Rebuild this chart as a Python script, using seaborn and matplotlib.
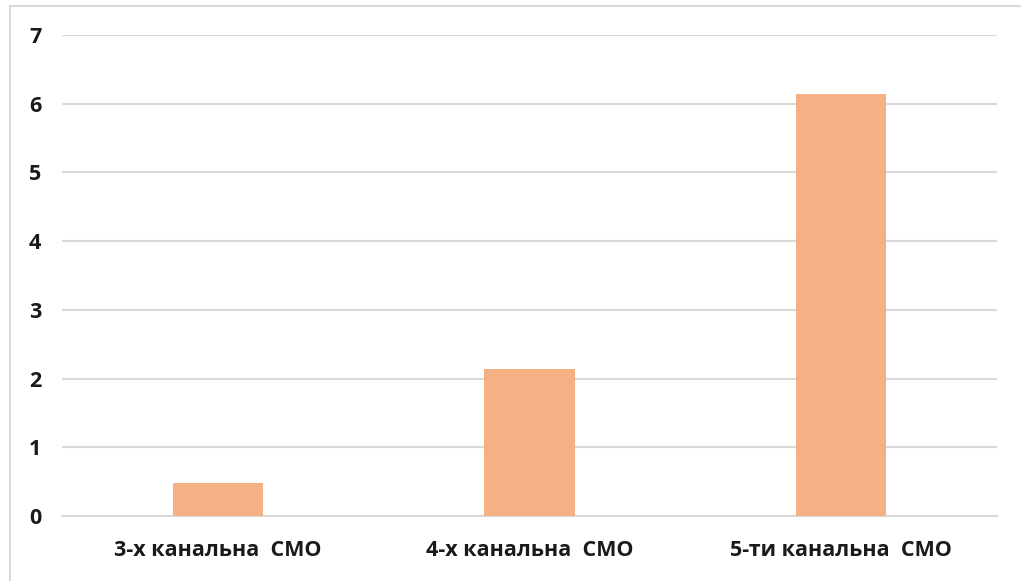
import matplotlib
matplotlib.use("Agg")
import matplotlib.pyplot as plt
import seaborn as sns
import pandas as pd
from matplotlib.lines import Line2D

categories = ["3-х канальна  СМО", "4-х канальна  СМО", "5-ти канальна  СМО"]
values = [0.48, 2.14, 6.14]
yticks = [0, 1, 2, 3, 4, 5, 6, 7]

sns.set_theme(style="white")
plt.rcParams['font.family'] = ['Open Sans', 'DejaVu Sans']

df = pd.DataFrame({"cat": categories, "val": values})

fig = plt.figure(figsize=(10.21, 5.81), dpi=100)
ax = fig.add_axes([62/1021, 1-516/581, (997-62)/1021, (516-35)/581])
sns.barplot(data=df, x="cat", y="val", color="#F4B183", saturation=1, width=0.29,
            linewidth=0, ax=ax, zorder=3)

ax.set_ylim(0, 7)
ax.set_yticks(yticks)
ax.set_yticklabels([str(t) for t in yticks], fontsize=15.5, fontweight="bold", color="#1a1a1a")
ax.set_xlabel("")
ax.set_ylabel("")
for lab in ax.get_xticklabels():
    lab.set_fontsize(15.5)
    lab.set_fontweight("bold")
    lab.set_color("#1a1a1a")
ax.tick_params(axis="both", length=0)
ax.tick_params(axis="y", pad=15)
ax.tick_params(axis="x", pad=17)
ax.grid(axis="y", color="#D9D9D9", linewidth=1.5, zorder=0)
ax.set_axisbelow(True)
for s in ["top", "right", "left"]:
    ax.spines[s].set_visible(False)
ax.spines["bottom"].set_color("#D9D9D9")
ax.spines["bottom"].set_linewidth(1.5)

# figure frame (left and top edges visible)
fig.add_artist(Line2D([10/1021, 10/1021], [0, 1-6/581], transform=fig.transFigure, color="#D9D9D9", linewidth=1.5))
fig.add_artist(Line2D([10/1021, 1], [1-6/581, 1-6/581], transform=fig.transFigure, color="#D9D9D9", linewidth=1.5))

fig.savefig("out.png", dpi=100, facecolor="white")
